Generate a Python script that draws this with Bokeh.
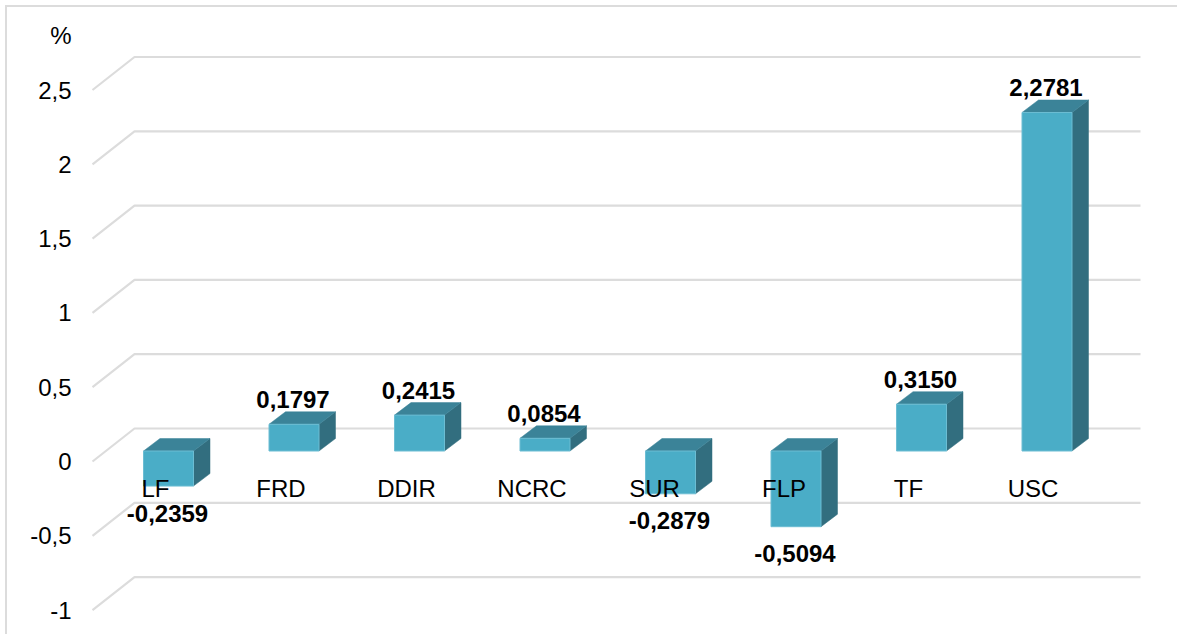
from bokeh.plotting import figure
from bokeh.models import Range1d, FixedTicker, ColumnDataSource
from bokeh.core.properties import value
from bokeh.embed import file_html
from bokeh.resources import INLINE

categories = ["LF", "FRD", "DDIR", "NCRC", "SUR", "FLP", "TF", "USC"]
values = [-0.2359, 0.1797, 0.2415, 0.0854, -0.2879, -0.5094, 0.3150, 2.2781]
value_labels = ["-0,2359", "0,1797", "0,2415", "0,0854", "-0,2879", "-0,5094", "0,3150", "2,2781"]
y_ticks = [-1, -0.5, 0, 0.5, 1, 1.5, 2, 2.5]
y_tick_labels = ["-1", "-0,5", "0", "0,5", "1", "1,5", "2", "2,5"]
unit_label = "%"

W, H = 1177, 634
LEFT = 78
X0, XU = 168.0, 125.5          # pixel of first category centre, pixels per category
Y0, YU = 461.0, 148.6          # pixel of value 0 on the axis plane, pixels per unit
dx = lambda px: px / XU
dy = lambda px: px / YU

FONT = value("Liberation Sans")
GRID = "#dcdcdc"
FRONT, TOP, SIDE = "#4aadc7", "#3b8398", "#326e7f"
EDGE = "#6cbdd3"

# chart border (left and top only reach the page) sits behind the transparent canvas
border = (f"linear-gradient({GRID},{GRID}) 5px 5px/2px 100% no-repeat, "
          f"linear-gradient({GRID},{GRID}) 5px 5px/100% 2px no-repeat, white")

p = figure(width=W, height=H, output_backend="svg", toolbar_location=None,
           x_range=Range1d((LEFT - X0) / XU, (W - X0) / XU),
           y_range=Range1d((Y0 - H) / YU, Y0 / YU),
           x_axis_location=None, min_border_left=LEFT, min_border_right=0,
           min_border_top=0, min_border_bottom=0, outline_line_color=None,
           background_fill_color=None, border_fill_color=None,
           styles={"background": border})
p.grid.visible = False

# the unit sits on the axis as one more label, above the top tick
unit_tick = (Y0 - 35) / YU
ax = p.yaxis[0]
ax.ticker = FixedTicker(ticks=y_ticks + [unit_tick])
ax.major_label_overrides = {**{t: l for t, l in zip(y_ticks, y_tick_labels)}, unit_tick: unit_label}
ax.major_tick_line_color = None
ax.major_tick_out = 0
ax.major_tick_in = 0
ax.minor_tick_line_color = None
ax.axis_line_color = None
ax.major_label_standoff = 7
ax.major_label_text_font = "Liberation Sans"
ax.major_label_text_font_size = "24px"
ax.major_label_text_color = "#000000"

# walls: slanted floor piece then the back wall line
wall_dx, wall_dy = dx(134 - 92), dy(33)
wall_x0 = (92 - X0) / XU
wall_x1 = (1140 - X0) / XU
p.multi_line([[wall_x0, wall_x0 + wall_dx, wall_x1] for _ in y_ticks],
             [[t, t + wall_dy, t + wall_dy] for t in y_ticks],
             line_color=GRID, line_width=2.2)

# 3-D columns
lift = dy(10.5)
half = dx(25)
depth_x, depth_y = dx(16.5), dy(12.5)
fx, fy, tx, ty, sx, sy = [], [], [], [], [], []
for i, v in enumerate(values):
    hi, lo = max(v, 0) + lift, min(v, 0) + lift
    l, r = i - half, i + half
    fx.append([l, r, r, l]); fy.append([lo, lo, hi, hi])
    tx.append([l, r, r + depth_x, l + depth_x]); ty.append([hi, hi, hi + depth_y, hi + depth_y])
    sx.append([r, r + depth_x, r + depth_x, r]); sy.append([lo, lo + depth_y, hi + depth_y, hi])
p.patches(sx, sy, fill_color=SIDE, line_color=SIDE, line_width=0.5)
p.patches(tx, ty, fill_color=TOP, line_color=TOP, line_width=0.5)
p.patches(fx, fy, fill_color=FRONT, line_color=EDGE, line_width=1)

# category labels sit over the columns, at a fixed height
cat_shift = [-13, -13, -13, -13, -16, -12, -13, -14]
cat_src = ColumnDataSource(dict(x=[i + dx(s) for i, s in enumerate(cat_shift)],
                                y=[(Y0 - 488) / YU] * len(categories), t=categories))
p.text("x", "y", text="t", source=cat_src, text_font=FONT, text_font_size="24px",
       text_align="center", text_baseline="middle", text_color="#000000")

# value labels
lab_y = [v + lift + (depth_y + dy(12.5) if v >= 0 else -dy(27)) for v in values]
val_src = ColumnDataSource(dict(x=[i - dx(1) for i in range(len(values))], y=lab_y, t=value_labels))
p.text("x", "y", text="t", source=val_src, text_font=FONT, text_font_size="24px",
       text_font_style="bold", text_align="center", text_baseline="middle", text_color="#000000")

open("out.html", "w").write(file_html(p, INLINE))
